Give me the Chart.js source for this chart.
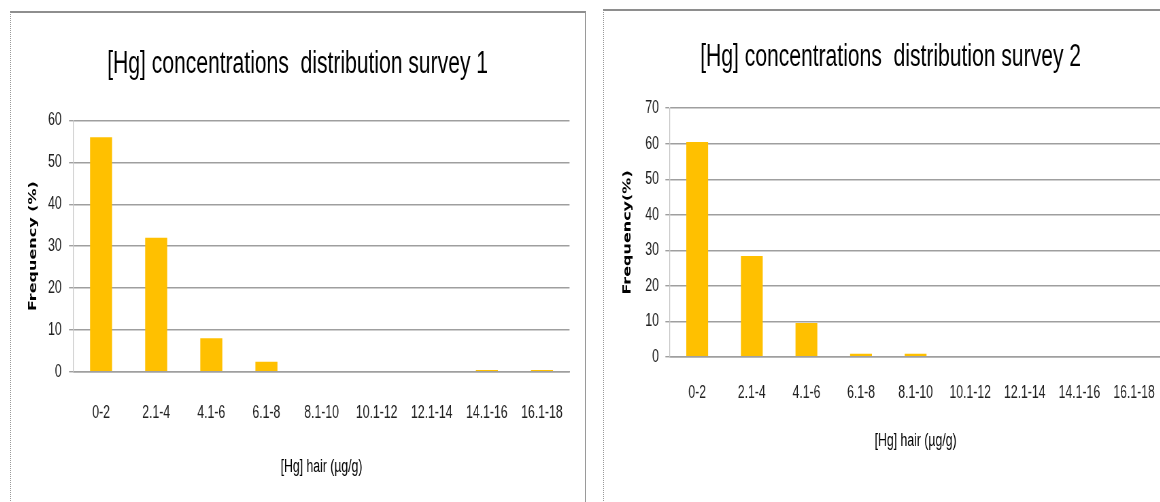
<!DOCTYPE html>
<html>
<head>
<meta charset="utf-8">
<script src="https://cdn.jsdelivr.net/npm/chart.js@4"></script>
<style>
  html, body { margin: 0; padding: 0; background: #fff; overflow: hidden; width: 1160px; height: 502px; }
  .panel { position: absolute; box-sizing: border-box; border-top: 2px solid #8e8e8e; border-left: 1px dotted #9a9a9a; border-right: 1px solid #9a9a9a; }
  canvas { position: absolute; transform-origin: 0 0; }
</style>
</head>
<body>
<div class="panel" style="left:10px; top:11px; width:576px; height:500px;"></div>
<div class="panel" style="left:603px; top:9px; width:576px; height:500px;"></div>
<canvas id="c1"></canvas>
<canvas id="c2"></canvas>
<script>
// ---- data ----
const categories = ['0-2', '2.1-4', '4.1-6', '6.1-8', '8.1-10', '10.1-12', '12.1-14', '14.1-16', '16.1-18'];
const survey1 = [56, 32, 8, 2.4, 0, 0, 0, 0.4, 0.4];
const survey2 = [60.5, 28.4, 9.5, 0.8, 0.8, 0, 0, 0, 0];
const title1 = '[Hg] concentrations  distribution survey 1';
const title2 = '[Hg] concentrations  distribution survey 2';
const yTitle1 = 'Frequency (%)';
const yTitle2 = 'Frequency(%)';
const xTitle = '[Hg] hair (\u00b5g/g)';
const yMax1 = 60;
const yMax2 = 70;

// ---- styling / layout ----
const K = 0.68;            // horizontal squeeze of the whole picture
const FONT = '"Liberation Sans", Arial, sans-serif';
const BAR = '#FFC000';
const GRID = '#9f9f9f';
const TICK_FS = 18, TITLE_FS = 31, XT_FS = 18, YT_FS = 16;

function makeChart(id, values, title, yTitle, yMax, P) {
  // P holds page-pixel geometry; converted to canvas units here
  const cv = document.getElementById(id);
  const W = Math.round(P.w / K);
  cv.width = W; cv.height = P.h;
  cv.style.left = P.x + 'px'; cv.style.top = P.y + 'px';
  cv.style.transform = 'scaleX(' + K + ')';
  const plotL = (P.plotL - P.x) / K, plotR = (P.plotR - P.x) / K;
  const side = W - plotR;
  const tickLen = 4.5 / K;
  const yW = plotL - side;
  const ytPad = (P.yTitleX - P.x) / K - side - YT_FS * 0.6;
  const yPad = (P.plotL - P.yLabR) / K - tickLen;
  const titleTop = (P.titleY - P.y) - TITLE_FS * 0.6;
  const plotTop = P.plotT - P.y, plotBot = P.plotB - P.y;
  const titleBot = plotTop - titleTop - TITLE_FS * 1.2;
  const xH = P.h - plotBot;
  const xPad = (P.labY - P.plotB) - TICK_FS * 0.6;
  const xtPad = (P.y + P.h - P.xTitleY) - XT_FS * 0.6;

  return new Chart(cv, {
    type: 'bar',
    data: {
      labels: categories,
      datasets: [{ data: values, backgroundColor: BAR, borderWidth: 0, barPercentage: 0.4, categoryPercentage: 1.0 }]
    },
    options: {
      responsive: false,
      animation: false,
      devicePixelRatio: 1,
      layout: { padding: { left: side, right: side, top: 0, bottom: 0 } },
      plugins: {
        legend: { display: false },
        tooltip: { enabled: false },
        title: {
          display: true,
          text: title,
          color: '#000',
          font: { family: FONT, size: TITLE_FS, weight: 'normal' },
          padding: { top: titleTop, bottom: titleBot }
        }
      },
      scales: {
        x: {
          grid: { display: false, drawTicks: false },
          border: { display: true, color: GRID, width: 1.5 },
          ticks: { color: '#222', font: { family: FONT, size: TICK_FS }, padding: xPad, maxRotation: 0, autoSkip: false },
          title: { display: true, text: xTitle, color: '#000', font: { family: FONT, size: XT_FS }, padding: { top: 0, bottom: xtPad } },
          afterFit: s => { s.height = xH; }
        },
        y: {
          min: 0, max: yMax,
          ticks: { stepSize: 10, color: '#222', font: { family: FONT, size: TICK_FS }, padding: yPad },
          grid: { color: GRID, lineWidth: 1.4, drawTicks: true, tickLength: tickLen },
          border: { display: true, color: '#c4c4c4', width: 1.2 },
          title: { display: true, text: yTitle, color: '#000', font: { family: '"DejaVu Sans", Verdana, sans-serif', size: YT_FS, weight: 'bold' }, padding: { top: ytPad, bottom: 0 } },
          afterFit: s => { s.width = yW; }
        }
      }
    }
  });
}

makeChart('c1', survey1, title1, yTitle1, yMax1,
  { x: 11, y: 13, w: 573, h: 489, plotL: 73.5, plotR: 570.6, plotT: 120.5, plotB: 371.7,
    titleY: 64, labY: 413, xTitleY: 467, yTitleX: 33, yLabR: 61.7 });
makeChart('c2', survey2, title2, yTitle2, yMax2,
  { x: 604, y: 11, w: 573, h: 491, plotL: 669.9, plotR: 1161.3, plotT: 108.2, plotB: 356.7,
    titleY: 57, labY: 393, xTitleY: 441.5, yTitleX: 628, yLabR: 659 });
</script>
</body>
</html>
